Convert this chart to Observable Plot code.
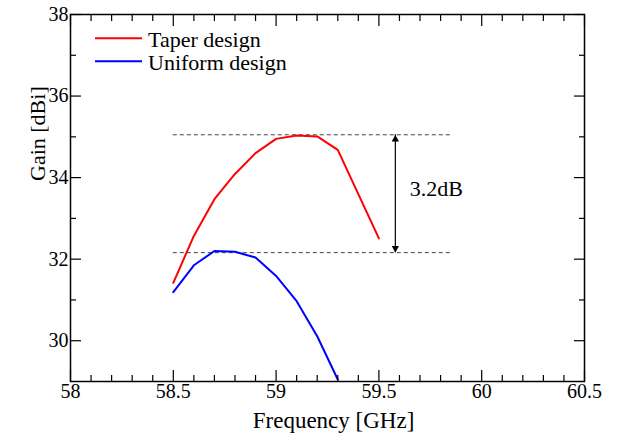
<!DOCTYPE html>
<html><head><meta charset="utf-8">
<script src="https://cdn.jsdelivr.net/npm/d3@7"></script>
<script src="https://cdn.jsdelivr.net/npm/@observablehq/plot@0.6"></script>
<style>
body{margin:0;background:#fff;}
#wrap{position:relative;width:623px;height:437px;}
#legend{position:absolute;left:0;top:0;pointer-events:none;}
</style></head><body>
<div id="wrap"></div>
<script>
// ---- data ----
const taperFreq = [58.5, 58.6, 58.7, 58.8, 58.9, 59.0, 59.1, 59.2, 59.3, 59.5];
const taperGain = [31.42, 32.57, 33.47, 34.09, 34.60, 34.95, 35.03, 35.01, 34.68, 32.51];
const uniformFreq = [58.5, 58.6, 58.7, 58.8, 58.9, 59.0, 59.1, 59.2, 59.3];
const uniformGain = [31.19, 31.85, 32.20, 32.18, 32.04, 31.59, 30.97, 30.11, 29.05];
const seriesNames = ["Taper design", "Uniform design"];
const seriesColors = ["#ff0000", "#0000ff"];
const refLevels = [35.05, 32.16];
const refSpan = [58.5, 59.86];
const arrowX = [59.58];
const gapLabel = ["3.2dB"];
const gapLabelAt = [59.65, 33.71];
const xTicks = [58, 58.5, 59, 59.5, 60, 60.5];
const xMinor = [58.1,58.2,58.3,58.4,58.6,58.7,58.8,58.9,59.1,59.2,59.3,59.4,59.6,59.7,59.8,59.9,60.1,60.2,60.3,60.4];
const yTicks = [30, 32, 34, 36, 38];
const yMinor = [31, 33, 35, 37];
const xLabel = ["Frequency [GHz]"];
const yLabel = ["Gain [dBi]"];

const rows = [
  ...taperFreq.map((f, i) => ({f, g: taperGain[i], s: seriesNames[0]})),
  ...uniformFreq.map((f, i) => ({f, g: uniformGain[i], s: seriesNames[1]}))
];

const blank = () => "";
const plot = Plot.plot({
  width: 623, height: 437,
  marginLeft: 70, marginRight: 39, marginTop: 14, marginBottom: 56,
  style: {fontFamily: "'Liberation Serif', 'Times New Roman', serif", fontSize: "20px", color: "#000", background: "#fff", overflow: "visible"},
  x: {domain: [58, 60.5]},
  y: {domain: [29, 38]},
  color: {domain: seriesNames, range: seriesColors},
  marks: [
    Plot.ruleY(refLevels, {x1: refSpan[0], x2: refSpan[1], stroke: "#444", strokeDasharray: "4,3", strokeWidth: 1}),
    Plot.ruleX(arrowX, {y1: refLevels[0], y2: refLevels[1], stroke: "#000", strokeWidth: 1.2}),
    Plot.dot(arrowX, {x: d => d, y: refLevels[0], symbol: "triangle2", r: 3.5, fill: "#000", dy: 4.5}),
    Plot.dot(arrowX, {x: d => d, y: refLevels[1], symbol: "triangle2", r: 3.5, fill: "#000", dy: -4.5, rotate: 180}),
    Plot.text(gapLabel, {x: gapLabelAt[0], y: gapLabelAt[1], text: d => d, textAnchor: "start", fontSize: 22}),
    Plot.line(rows, {x: "f", y: "g", z: "s", stroke: "s", strokeWidth: 2}),
    Plot.frame({stroke: "#000", strokeWidth: 1.5}),
    Plot.axisX({ticks: xTicks, tickSize: -11, tickPadding: 13, tickFormat: d => String(d), label: null, strokeWidth: 1.2}),
    Plot.axisX({ticks: xMinor, tickSize: -6, tickFormat: blank, label: null, strokeWidth: 1.2}),
    Plot.axisX({anchor: "top", ticks: xTicks, tickSize: -11, tickFormat: blank, label: null, strokeWidth: 1.2}),
    Plot.axisX({anchor: "top", ticks: xMinor, tickSize: -6, tickFormat: blank, label: null, strokeWidth: 1.2}),
    Plot.axisY({ticks: yTicks, tickSize: -11, tickPadding: 13, tickFormat: d => String(d), label: null, strokeWidth: 1.2}),
    Plot.axisY({ticks: yMinor, tickSize: -6, tickFormat: blank, label: null, strokeWidth: 1.2}),
    Plot.axisY({anchor: "right", ticks: yTicks, tickSize: -11, tickFormat: blank, label: null, strokeWidth: 1.2}),
    Plot.axisY({anchor: "right", ticks: yMinor, tickSize: -6, tickFormat: blank, label: null, strokeWidth: 1.2}),
    Plot.text(xLabel, {frameAnchor: "bottom", text: d => d, dy: 46, dx: 6, lineAnchor: "bottom", fontSize: 23}),
    Plot.text(yLabel, {frameAnchor: "left", text: d => d, rotate: -90, dx: -26, dy: -17, lineAnchor: "bottom", fontSize: 22})
  ]
});
const wrap = document.getElementById("wrap");
wrap.appendChild(plot);

// legend overlay (inside plot area, top-left)
const ns = "http://www.w3.org/2000/svg";
const lg = document.createElementNS(ns, "svg");
lg.setAttribute("id", "legend");
lg.setAttribute("width", 623);
lg.setAttribute("height", 437);
seriesNames.forEach((name, i) => {
  const ln = document.createElementNS(ns, "line");
  ln.setAttribute("x1", 95); ln.setAttribute("x2", 142);
  ln.setAttribute("y1", 38.3 + 23 * i); ln.setAttribute("y2", 38.3 + 23 * i);
  ln.setAttribute("stroke", seriesColors[i]); ln.setAttribute("stroke-width", 2);
  lg.appendChild(ln);
  const tx = document.createElementNS(ns, "text");
  tx.setAttribute("x", 148); tx.setAttribute("y", 46.7 + 23 * i);
  tx.setAttribute("font-family", "'Liberation Serif', 'Times New Roman', serif");
  tx.setAttribute("font-size", 22);
  tx.setAttribute("fill", "#000");
  tx.textContent = name;
  lg.appendChild(tx);
});
wrap.appendChild(lg);
</script>
</body></html>
